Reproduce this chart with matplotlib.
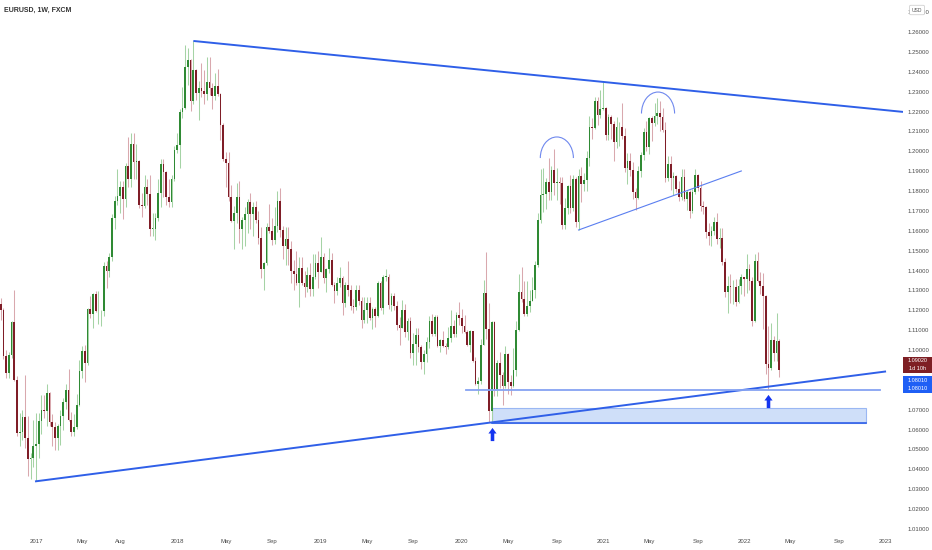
import numpy as np
import pandas as pd
import matplotlib
matplotlib.use("Agg")
import matplotlib.pyplot as plt
from matplotlib.patches import Rectangle, Arc
from matplotlib.path import Path

plt.rcParams['font.family'] = ['Liberation Sans', 'DejaVu Sans']

# EURUSD weekly candles, FXCM, first bar = week of 2016-10-03
first_week = pd.Timestamp("2016-10-03")
first_open = 1.1230

closes = [
    1.1200, 1.0970, 1.0885, 1.0975, 1.1140, 1.0850, 1.0585, 1.0590, 1.0665, 1.0560, 1.0450, 1.0455, 1.0520,
    1.0530, 1.0645, 1.0700, 1.0695, 1.0785, 1.0640, 1.0615, 1.0560, 1.0620, 1.0670, 1.0740, 1.0800, 1.0650,
    1.0590, 1.0615, 1.0725, 1.0895, 1.0995, 1.0935, 1.1205, 1.1180, 1.1280, 1.1195, 1.1195, 1.1195, 1.1425,
    1.1400, 1.1470, 1.1665, 1.1750, 1.1775, 1.1820, 1.1760, 1.1925, 1.1860, 1.2035, 1.1945, 1.1950, 1.1730,
    1.1725, 1.1820, 1.1785, 1.1610, 1.1610, 1.1665, 1.1790, 1.1935, 1.1895, 1.1770, 1.1745, 1.1860, 1.2005,
    1.2030, 1.2200, 1.2220, 1.2425, 1.2460, 1.2255, 1.2410, 1.2295, 1.2320, 1.2305, 1.2290, 1.2350, 1.2320,
    1.2280, 1.2330, 1.2290, 1.2130, 1.1960, 1.1940, 1.1770, 1.1650, 1.1690, 1.1770, 1.1610, 1.1655, 1.1685,
    1.1745, 1.1685, 1.1720, 1.1655, 1.1565, 1.1410, 1.1440, 1.1620, 1.1600, 1.1555, 1.1625, 1.1750, 1.1605,
    1.1525, 1.1560, 1.1510, 1.1400, 1.1385, 1.1335, 1.1415, 1.1335, 1.1315, 1.1380, 1.1305, 1.1370, 1.1440,
    1.1395, 1.1470, 1.1365, 1.1410, 1.1455, 1.1325, 1.1295, 1.1335, 1.1365, 1.1235, 1.1325, 1.1300, 1.1220,
    1.1215, 1.1300, 1.1245, 1.1150, 1.1200, 1.1235, 1.1160, 1.1205, 1.1170, 1.1335, 1.1210, 1.1370, 1.1370,
    1.1225, 1.1270, 1.1220, 1.1125, 1.1110, 1.1200, 1.1090, 1.1145, 1.0985, 1.1030, 1.1075, 1.1015, 1.0940,
    1.0980, 1.1040, 1.1145, 1.1080, 1.1165, 1.1020, 1.1050, 1.1020, 1.1015, 1.1060, 1.1120, 1.1080, 1.1175,
    1.1160, 1.1120, 1.1090, 1.1025, 1.1095, 1.0945, 1.0830, 1.0845, 1.1025, 1.1285, 1.1105, 1.0695, 1.1140,
    1.0805, 1.0935, 1.0875, 1.0820, 1.0980, 1.0840, 1.0820, 1.0900, 1.1100, 1.1290, 1.1255, 1.1180, 1.1220,
    1.1245, 1.1300, 1.1430, 1.1655, 1.1780, 1.1785, 1.1845, 1.1795, 1.1905, 1.1840, 1.1845, 1.1840, 1.1630,
    1.1715, 1.1825, 1.1715, 1.1860, 1.1645, 1.1875, 1.1835, 1.1855, 1.1965, 1.2120, 1.2115, 1.2255, 1.2185,
    1.2215, 1.2220, 1.2080, 1.2170, 1.2135, 1.2045, 1.2120, 1.2120, 1.2075, 1.1915, 1.1950, 1.1905, 1.1795,
    1.1765, 1.1900, 1.1980, 1.2095, 1.2020, 1.2165, 1.2140, 1.2180, 1.2195, 1.2170, 1.2105, 1.1865, 1.1935,
    1.1865, 1.1875, 1.1810, 1.1770, 1.1870, 1.1760, 1.1795, 1.1700, 1.1795, 1.1880, 1.1815, 1.1725, 1.1720,
    1.1595, 1.1575, 1.1600, 1.1645, 1.1560, 1.1565, 1.1445, 1.1290, 1.1320, 1.1315, 1.1315, 1.1240, 1.1320,
    1.1370, 1.1360, 1.1410, 1.1345, 1.1145, 1.1450, 1.1350, 1.1320, 1.1270, 1.0930, 1.0910, 1.1050, 1.0985,
    1.1045, 1.0902,
]

highs = [
    1.1260, 1.1210, 1.1000, 1.0990, 1.1145, 1.1300, 1.0870, 1.0685, 1.0700, 1.0875, 1.0670, 1.0480, 1.0650,
    1.0685, 1.0685, 1.0775, 1.0775, 1.0830, 1.0790, 1.0680, 1.0640, 1.0630, 1.0700, 1.0760, 1.0830, 1.0905,
    1.0690, 1.0680, 1.0780, 1.0950, 1.1020, 1.1025, 1.1210, 1.1270, 1.1285, 1.1295, 1.1295, 1.1200, 1.1445,
    1.1450, 1.1490, 1.1685, 1.1775, 1.1910, 1.1850, 1.1850, 1.1940, 1.2070, 1.2090, 1.2090, 1.2035, 1.1955,
    1.1790, 1.1880, 1.1860, 1.1880, 1.1690, 1.1690, 1.1860, 1.1960, 1.1960, 1.1900, 1.1860, 1.1880, 1.2025,
    1.2090, 1.2215, 1.2325, 1.2535, 1.2520, 1.2465, 1.2555, 1.2415, 1.2355, 1.2445, 1.2410, 1.2475, 1.2475,
    1.2345, 1.2395, 1.2415, 1.2295, 1.2140, 1.1995, 1.1995, 1.1830, 1.1725, 1.1840, 1.1850, 1.1670, 1.1720,
    1.1760, 1.1790, 1.1745, 1.1750, 1.1700, 1.1620, 1.1445, 1.1640, 1.1735, 1.1665, 1.1720, 1.1800, 1.1815,
    1.1625, 1.1620, 1.1620, 1.1550, 1.1455, 1.1500, 1.1470, 1.1470, 1.1400, 1.1420, 1.1440, 1.1485, 1.1485,
    1.1500, 1.1570, 1.1490, 1.1415, 1.1515, 1.1490, 1.1340, 1.1370, 1.1420, 1.1375, 1.1340, 1.1450, 1.1325,
    1.1255, 1.1325, 1.1325, 1.1265, 1.1265, 1.1265, 1.1265, 1.1215, 1.1215, 1.1350, 1.1350, 1.1380, 1.1410,
    1.1385, 1.1285, 1.1285, 1.1245, 1.1165, 1.1250, 1.1230, 1.1160, 1.1165, 1.1085, 1.1110, 1.1110, 1.1025,
    1.1000, 1.1065, 1.1170, 1.1180, 1.1175, 1.1175, 1.1055, 1.1095, 1.1035, 1.1115, 1.1200, 1.1150, 1.1190,
    1.1240, 1.1205, 1.1175, 1.1100, 1.1100, 1.1095, 1.0965, 1.0865, 1.1055, 1.1355, 1.1495, 1.1235, 1.1145,
    1.1145, 1.0950, 1.0990, 1.0890, 1.1020, 1.0985, 1.0875, 1.1010, 1.1145, 1.1385, 1.1420, 1.1350, 1.1350,
    1.1300, 1.1370, 1.1450, 1.1690, 1.1910, 1.1915, 1.1865, 1.1965, 1.1925, 1.2011, 1.1915, 1.1870, 1.1870,
    1.1765, 1.1830, 1.1880, 1.1880, 1.1870, 1.1910, 1.1920, 1.1890, 1.2000, 1.2175, 1.2165, 1.2275, 1.2275,
    1.2310, 1.2349, 1.2225, 1.2190, 1.2185, 1.2150, 1.2170, 1.2145, 1.2243, 1.2115, 1.1990, 1.1990, 1.1945,
    1.1815, 1.1925, 1.1995, 1.2115, 1.2150, 1.2170, 1.2180, 1.2245, 1.2266, 1.2255, 1.2220, 1.2145, 1.1975,
    1.1975, 1.1895, 1.1880, 1.1850, 1.1910, 1.1910, 1.1805, 1.1805, 1.1810, 1.1910, 1.1885, 1.1850, 1.1750,
    1.1725, 1.1640, 1.1625, 1.1670, 1.1690, 1.1615, 1.1615, 1.1465, 1.1375, 1.1385, 1.1355, 1.1360, 1.1360,
    1.1385, 1.1370, 1.1482, 1.1435, 1.1370, 1.1485, 1.1495, 1.1395, 1.1390, 1.1275, 1.1121, 1.1137, 1.1070,
    1.1185, 1.1055,
]

lows = [
    1.1150, 1.0955, 1.0860, 1.0860, 1.0960, 1.0845, 1.0570, 1.0515, 1.0550, 1.0505, 1.0365, 1.0352, 1.0410,
    1.0340, 1.0455, 1.0580, 1.0660, 1.0620, 1.0620, 1.0520, 1.0495, 1.0495, 1.0525, 1.0600, 1.0705, 1.0645,
    1.0570, 1.0570, 1.0605, 1.0720, 1.0860, 1.0840, 1.0925, 1.1160, 1.1110, 1.1190, 1.1130, 1.1120, 1.1170,
    1.1310, 1.1370, 1.1450, 1.1610, 1.1730, 1.1690, 1.1660, 1.1720, 1.1820, 1.1820, 1.1860, 1.1860, 1.1715,
    1.1670, 1.1715, 1.1730, 1.1575, 1.1575, 1.1555, 1.1650, 1.1720, 1.1770, 1.1730, 1.1720, 1.1720, 1.1850,
    1.1990, 1.1915, 1.2165, 1.2215, 1.2335, 1.2205, 1.2240, 1.2260, 1.2155, 1.2275, 1.2240, 1.2260, 1.2285,
    1.2215, 1.2260, 1.2280, 1.2055, 1.1950, 1.1820, 1.1750, 1.1645, 1.1510, 1.1640, 1.1540, 1.1510, 1.1525,
    1.1590, 1.1610, 1.1575, 1.1640, 1.1535, 1.1365, 1.1300, 1.1430, 1.1590, 1.1530, 1.1535, 1.1595, 1.1570,
    1.1460, 1.1430, 1.1430, 1.1335, 1.1300, 1.1325, 1.1216, 1.1325, 1.1265, 1.1290, 1.1270, 1.1270, 1.1360,
    1.1310, 1.1395, 1.1335, 1.1290, 1.1390, 1.1320, 1.1235, 1.1275, 1.1315, 1.1175, 1.1215, 1.1270, 1.1200,
    1.1185, 1.1200, 1.1225, 1.1110, 1.1135, 1.1135, 1.1150, 1.1105, 1.1115, 1.1165, 1.1200, 1.1180, 1.1345,
    1.1205, 1.1195, 1.1200, 1.1100, 1.1025, 1.1110, 1.1065, 1.1050, 1.0960, 1.0925, 1.0925, 1.0990, 1.0905,
    1.0879, 1.0940, 1.1010, 1.1070, 1.1070, 1.1015, 1.0990, 1.1015, 1.0980, 1.1005, 1.1040, 1.1065, 1.1065,
    1.1125, 1.1085, 1.1085, 1.1020, 1.0990, 1.0940, 1.0825, 1.0778, 1.0830, 1.1025, 1.1055, 1.0640, 1.0636,
    1.0770, 1.0770, 1.0810, 1.0725, 1.0810, 1.0780, 1.0775, 1.0815, 1.0870, 1.1095, 1.1240, 1.1170, 1.1170,
    1.1190, 1.1245, 1.1260, 1.1420, 1.1640, 1.1695, 1.1710, 1.1755, 1.1755, 1.1780, 1.1755, 1.1735, 1.1610,
    1.1610, 1.1685, 1.1690, 1.1700, 1.1620, 1.1605, 1.1745, 1.1800, 1.1800, 1.1925, 1.2060, 1.2110, 1.2130,
    1.2165, 1.2210, 1.2055, 1.2055, 1.2060, 1.1950, 1.2015, 1.2025, 1.2060, 1.1895, 1.1835, 1.1875, 1.1760,
    1.1704, 1.1760, 1.1870, 1.1955, 1.2000, 1.1985, 1.2050, 1.2125, 1.2135, 1.2100, 1.2095, 1.1845, 1.1850,
    1.1805, 1.1780, 1.1795, 1.1750, 1.1755, 1.1750, 1.1705, 1.1665, 1.1690, 1.1785, 1.1800, 1.1700, 1.1685,
    1.1565, 1.1530, 1.1525, 1.1580, 1.1535, 1.1515, 1.1430, 1.1265, 1.1186, 1.1235, 1.1230, 1.1220, 1.1235,
    1.1280, 1.1270, 1.1285, 1.1300, 1.1121, 1.1140, 1.1340, 1.1280, 1.1106, 1.0880, 1.0806, 1.0900, 1.0945,
    1.0945, 1.0865,
]

# drawings (bar index, price)
upper_line = [(71, 1.2555), (222, 1.2349)]
lower_line = [(13, 1.0340), (326, 1.0892)]
neck_line = [(213, 1.1604), (273, 1.1901)]
support_level = 1.0801
support_span = (171.5, 324)
zone = (181, 319, 1.0633, 1.0709)
arcs = [(205.0, 1.1966, 12.2, 0.0212), (242.3, 1.2190, 12.2, 0.0216)]
arrow_marks = [(181, 1.0578), (283, 1.0742)]

tick_dates = ["2017-01-02", "2017-05-01", "2017-08-07", "2018-01-01", "2018-05-07", "2018-09-03",
              "2019-01-07", "2019-05-06", "2019-09-02", "2020-01-06", "2020-05-04", "2020-09-07",
              "2021-01-04", "2021-05-03", "2021-09-06", "2022-01-03", "2022-05-02", "2022-09-05",
              "2023-01-02"]
tick_names = ["2017", "May", "Aug", "2018", "May", "Sep", "2019", "May", "Sep", "2020", "May", "Sep",
              "2021", "May", "Sep", "2022", "May", "Sep", "2023"]

closes = np.array(closes)
highs = np.array(highs)
lows = np.array(lows)
opens = np.concatenate([[first_open], closes[:-1]])
x = np.arange(len(closes))
up = closes >= opens

fig = plt.figure(figsize=(9.32, 5.5), dpi=100)
ax = fig.add_axes([0, 18 / 550, 903 / 932, 532 / 550])

# candles
wick_up, wick_dn = "#a5d3a5", "#d9a8ae"
body_up, body_dn = "#2f8a34", "#7f1d27"
ax.vlines(x[up], lows[up], highs[up], color=wick_up, lw=0.75, zorder=2)
ax.vlines(x[~up], lows[~up], highs[~up], color=wick_dn, lw=0.75, zorder=2)
body_lo = np.minimum(opens, closes)
body_h = np.maximum(np.abs(closes - opens), 0.0003)
ax.bar(x[up], body_h[up], bottom=body_lo[up], width=0.62, color=body_up, lw=0, zorder=3)
ax.bar(x[~up], body_h[~up], bottom=body_lo[~up], width=0.62, color=body_dn, lw=0, zorder=3)

xmin, xmax = -0.27, 332.6
ax.set_xlim(xmin, xmax)
ax.set_ylim(1.00849, 1.27610)

# upper trendline, extended to the right
(x0, y0), (x1, y1) = upper_line
slope = (y1 - y0) / (x1 - x0)
ax.plot([x0, xmax], [y0, y0 + slope * (xmax - x0)], color="#2f5fe8", lw=1.4, zorder=4,
        solid_capstyle="butt")
ax.plot([p[0] for p in lower_line], [p[1] for p in lower_line], color="#2f5fe8", lw=1.4, zorder=4)
ax.plot([p[0] for p in neck_line], [p[1] for p in neck_line], color="#5a7ef0", lw=0.8, zorder=4)
ax.plot(support_span, [support_level, support_level], color="#86a3f2", lw=1.3, zorder=4)

# demand zone
zx0, zx1, zy0, zy1 = zone
ax.add_patch(Rectangle((zx0, zy0), zx1 - zx0, zy1 - zy0, facecolor="#cfdff9",
                       edgecolor="#9ab7f3", lw=0.8, zorder=1))
ax.plot([zx0, zx1], [zy0, zy0], color="#2f5fe8", lw=1.2, zorder=4)

# shoulder arcs
for cx, cy, w, h in arcs:
    ax.add_patch(Arc((cx, cy), w, h, theta1=0, theta2=180, color="#6f88ee", lw=0.8, zorder=4))

# arrows
arrow = Path([(0, 1), (-0.62, 0.15), (-0.27, 0.15), (-0.27, -1), (0.27, -1), (0.27, 0.15),
              (0.62, 0.15), (0, 1)],
             [Path.MOVETO] + [Path.LINETO] * 6 + [Path.CLOSEPOLY])
for ax_, ay_ in arrow_marks:
    ax.plot(ax_, ay_, marker=arrow, ms=9.5, color="#1434f0", mec="none", zorder=5)

# axes styling
for s in ax.spines.values():
    s.set_visible(False)
ax.yaxis.tick_right()
yt = np.round(np.arange(1.01, 1.2701, 0.01), 2)
ax.set_yticks(yt)
# 1.08 and 1.09 sit under the price tags
ax.set_yticklabels(["" if v in (1.08, 1.09) else f"{v:.5f}" for v in yt])
tick_pos = [(pd.Timestamp(d) - first_week).days / 7 for d in tick_dates]
ax.set_xticks(tick_pos)
ax.set_xticklabels(tick_names)
ax.tick_params(axis="y", length=0, pad=3, labelsize=4.3, labelcolor="#4a4a4a")
ax.tick_params(axis="x", length=0, pad=5, labelsize=4.3, labelcolor="#4a4a4a")
ax.set_facecolor("white")

# title
fig.text(4 / 932, 1 - 10.5 / 550, "EURUSD, 1W, FXCM", fontsize=5, fontweight="bold",
         color="#333333", va="center", ha="left")

# currency box (covers the middle of the top price label)
fig.text(917 / 932, 1 - 10 / 550, "USD", fontsize=3.6, color="#555555", ha="center", va="center",
         bbox=dict(boxstyle="round,pad=0.45,rounding_size=0.25", fc="white", ec="#c8c8c8", lw=0.5),
         zorder=10)

# price tags
def tag(top, bottom, color, lines):
    fig.add_artist(Rectangle((903 / 932, 1 - bottom / 550), 29 / 932, (bottom - top) / 550,
                             transform=fig.transFigure, facecolor=color, edgecolor="none", zorder=9))
    n = len(lines)
    for i, t in enumerate(lines):
        yc = top + (bottom - top) * (i + 0.5) / n
        fig.text(917.5 / 932, 1 - yc / 550, t, fontsize=4, color="white", ha="center", va="center",
                 zorder=10)

tag(357, 373, "#7e1f24", [f"{closes[-1]:.5f}", "1d 10h"])
tag(376, 393, "#1f5ff5", [f"{support_level:.5f}", f"{support_level:.5f}"])

fig.savefig("out.png", dpi=100, facecolor="white")
